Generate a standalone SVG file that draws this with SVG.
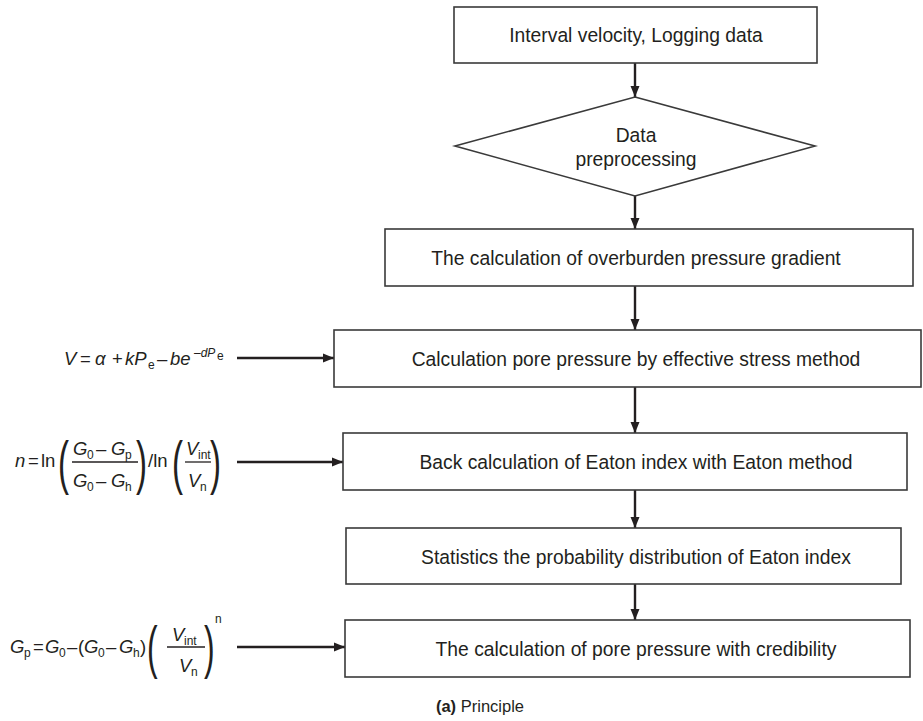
<svg xmlns="http://www.w3.org/2000/svg" width="923" height="721" viewBox="0 0 923 721">
  <style>
    .box { fill: #ffffff; stroke: #3a3a3a; stroke-width: 1.6; }
    .lbl { font-family: "Liberation Sans", Arial, sans-serif; font-size: 19.3px; fill: #231f20; text-anchor: middle; }
    .m { font-family: "Liberation Sans", Arial, sans-serif; font-size: 18.5px; fill: #231f20; }
    .i { font-style: italic; }
    .sub { font-family: "Liberation Sans", Arial, sans-serif; font-size: 12px; fill: #231f20; }
    .big { font-family: "Liberation Sans", Arial, sans-serif; fill: #231f20; }
    .frac { stroke: #231f20; stroke-width: 1.3; }
    .arrow { stroke: #231f20; stroke-width: 2.4; fill: none; marker-end: url(#head); }
    .cap { font-family: "Liberation Sans", Arial, sans-serif; font-size: 16.5px; fill: #231f20; }
  </style>
  <defs>
    <marker id="head" markerUnits="userSpaceOnUse" markerWidth="12" markerHeight="12" viewBox="0 0 12 12" refX="11" refY="6" orient="auto">
      <path d="M0,1.5 L11,6 L0,10.5 Z" fill="#231f20"/>
    </marker>
  </defs>

  <rect width="923" height="721" fill="#ffffff"/>

  <!-- connectors -->
  <g id="connectors">
    <line class="arrow" x1="635" y1="63" x2="635" y2="97"/>
    <line class="arrow" x1="635" y1="196" x2="635" y2="229"/>
    <line class="arrow" x1="635" y1="286" x2="635" y2="330"/>
    <line class="arrow" x1="635" y1="387" x2="635" y2="433"/>
    <line class="arrow" x1="635" y1="490" x2="635" y2="528"/>
    <line class="arrow" x1="635" y1="584" x2="635" y2="620"/>
    <line class="arrow" x1="237" y1="358" x2="334" y2="358"/>
    <line class="arrow" x1="237" y1="462" x2="343" y2="462"/>
    <line class="arrow" x1="237" y1="647" x2="345" y2="647"/>
  </g>

  <!-- process steps -->
  <g id="input-data">
    <rect class="box" x="454" y="7" width="363" height="56"/>
    <text class="lbl" x="636" y="42">Interval velocity, Logging data</text>
  </g>

  <g id="preprocessing">
    <polygon class="box" points="635,97 815,146 635,196 455,146"/>
    <text class="lbl" x="636" y="142">Data</text>
    <text class="lbl" x="636" y="166">preprocessing</text>
  </g>

  <g id="overburden">
    <rect class="box" x="385" y="229" width="528" height="57"/>
    <text class="lbl" x="636" y="265">The calculation of overburden pressure gradient</text>
  </g>

  <g id="effective-stress">
    <rect class="box" x="334" y="330" width="587" height="57"/>
    <text class="lbl" x="636" y="366">Calculation pore pressure by effective stress method</text>
  </g>

  <g id="eaton-back">
    <rect class="box" x="343" y="433" width="564" height="57"/>
    <text class="lbl" x="636" y="469">Back calculation of Eaton index with Eaton method</text>
  </g>

  <g id="eaton-stats">
    <rect class="box" x="346" y="528" width="555" height="56"/>
    <text class="lbl" x="636" y="564">Statistics the probability distribution of Eaton index</text>
  </g>

  <g id="credibility">
    <rect class="box" x="345" y="620" width="565" height="57"/>
    <text class="lbl" x="636" y="656">The calculation of pore pressure with credibility</text>
  </g>

  <!-- formula: effective stress relation -->
  <g id="formula-velocity">
    <text class="m i" x="64" y="365">V</text>
    <text class="m" x="80" y="365">=</text>
    <text class="m i" x="95" y="365">α</text>
    <text class="m" x="112" y="365">+</text>
    <text class="m i" x="125" y="365">kP</text>
    <text class="sub" x="148" y="369">e</text>
    <text class="m" x="157" y="365">–</text>
    <text class="m i" x="170" y="365">be</text>
    <text class="sub i" x="194" y="357">–dP</text>
    <text class="sub" x="217" y="360" font-size="7">e</text>
  </g>

  <!-- formula: Eaton index -->
  <g id="formula-eaton-index">
    <text class="m i" x="15" y="467">n</text>
    <text class="m" x="28" y="467">=</text>
    <text class="m" x="41" y="467">ln</text>
    <text class="big" font-size="60" transform="translate(58,483) scale(0.55,1)">(</text>
    <text class="m i" x="73" y="455">G</text>
    <text class="sub" x="87" y="459">0</text>
    <text class="m" x="96" y="455">–</text>
    <text class="m i" x="111" y="455">G</text>
    <text class="sub" x="125" y="459">p</text>
    <line class="frac" x1="72" y1="462" x2="138" y2="462"/>
    <text class="m i" x="73" y="487">G</text>
    <text class="sub" x="87" y="491">0</text>
    <text class="m" x="96" y="487">–</text>
    <text class="m i" x="111" y="487">G</text>
    <text class="sub" x="125" y="491">h</text>
    <text class="big" font-size="60" transform="translate(136,483) scale(0.55,1)">)</text>
    <text class="m" x="148" y="467">/ln</text>
    <text class="big" font-size="60" transform="translate(172,483) scale(0.55,1)">(</text>
    <text class="m i" x="186" y="455">V</text>
    <text class="sub" x="198" y="459">int</text>
    <line class="frac" x1="185" y1="462" x2="211" y2="462"/>
    <text class="m i" x="188" y="487">V</text>
    <text class="sub" x="200" y="491">n</text>
    <text class="big" font-size="60" transform="translate(210,483) scale(0.55,1)">)</text>
  </g>

  <!-- formula: pore pressure from Eaton -->
  <g id="formula-pore-pressure">
    <text class="m i" x="10" y="653">G</text>
    <text class="sub" x="24" y="657">p</text>
    <text class="m" x="33" y="653">=</text>
    <text class="m i" x="45" y="653">G</text>
    <text class="sub" x="59" y="657">0</text>
    <text class="m" x="67" y="653">–</text>
    <text class="m" x="78" y="653">(</text>
    <text class="m i" x="84" y="653">G</text>
    <text class="sub" x="98" y="657">0</text>
    <text class="m" x="106" y="653">–</text>
    <text class="m i" x="119" y="653">G</text>
    <text class="sub" x="133" y="657">h</text>
    <text class="m" x="140" y="653">)</text>
    <text class="big" font-size="58" transform="translate(147,667) scale(0.55,1)">(</text>
    <text class="m i" x="172" y="641">V</text>
    <text class="sub" x="184" y="645">int</text>
    <line class="frac" x1="167" y1="647" x2="205" y2="647"/>
    <text class="m i" x="179" y="672">V</text>
    <text class="sub" x="191" y="676">n</text>
    <text class="big" font-size="58" transform="translate(204,667) scale(0.55,1)">)</text>
    <text class="sub" x="215" y="623" font-size="12.5">n</text>
  </g>

  <!-- caption -->
  <text class="cap" x="524" y="712" text-anchor="end"><tspan font-weight="bold">(a)</tspan> Principle</text>
</svg>
